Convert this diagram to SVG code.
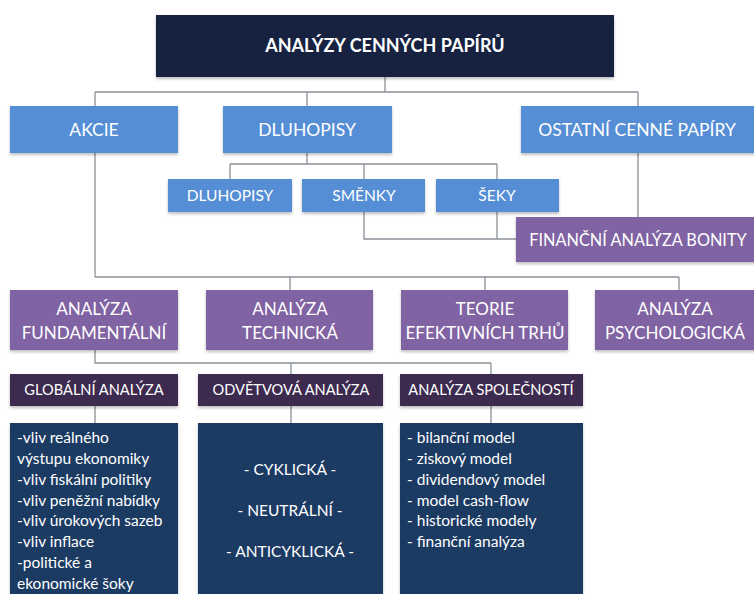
<svg xmlns="http://www.w3.org/2000/svg" width="754" height="594" viewBox="0 0 754 594">
<defs>
<filter id="sh" x="-5%" y="-5%" width="110%" height="130%">
<feDropShadow dx="0" dy="2" stdDeviation="1.5" flood-color="#000" flood-opacity="0.25"/>
</filter>
</defs>
<style>
text{font-family:Lato,"Open Sans","Liberation Sans",sans-serif;fill:#fff;}
.c{text-anchor:middle;}
.title{font-size:18px;font-weight:bold;}
.l1{font-size:17.5px;}
.l2{font-size:15.5px;}
.l4{font-size:17px;}
.l5{font-size:16.3px;}
.l3{font-size:14.6px;}
.lst{font-size:15.5px;}
.navy{fill:#13233f;}
.blue{fill:#558ed5;}
.purple{fill:#8064a2;}
.dpurple{fill:#3d2b50;}
.dnavy{fill:#1c3a64;}
rect{filter:url(#sh);}
.con{fill:none;stroke:#8a9199;stroke-width:1.3;}
</style>
<g id="connectors">
<path class="con" d="M385 77V92M95 92H638M95 92V106M307 92V106M638 92V106"/>
<path class="con" d="M307 153V164M230 164H497M230 164V179M364 164V179M497 164V179"/>
<path class="con" d="M364 212V239H516M497 212V239M638 153V217"/>
<path class="con" d="M95 153V277M95 277H679M290 277V290M485 277V290M679 277V290"/>
<path class="con" d="M95 350V363H491M291 363V374M491 363V374"/>
<path class="con" d="M95 406V423M291 406V423M491 406V423"/>
</g>
<g id="n-root"><rect class="navy" x="156" y="15" width="458" height="62"/><text class="c title" x="385" y="52">ANALÝZY CENNÝCH PAPÍRŮ</text></g>
<g id="n-akcie"><rect class="blue" x="10" y="106" width="168" height="47"/><text class="c l1" x="94" y="136">AKCIE</text></g>
<g id="n-dluhopisy"><rect class="blue" x="223" y="106" width="169" height="47"/><text class="c l1" x="307" y="136">DLUHOPISY</text></g>
<g id="n-ostatni"><rect class="blue" x="521" y="106" width="240" height="47"/><text class="c l1" x="637" y="136">OSTATNÍ CENNÉ PAPÍRY</text></g>
<g id="n-dluhopisy2"><rect class="blue" x="168" y="179" width="124" height="33"/><text class="c l2" x="230" y="201">DLUHOPISY</text></g>
<g id="n-smenky"><rect class="blue" x="302" y="179" width="123" height="33"/><text class="c l2" x="364" y="201">SMĚNKY</text></g>
<g id="n-seky"><rect class="blue" x="436" y="179" width="123" height="33"/><text class="c l2" x="497" y="201">ŠEKY</text></g>
<g id="n-financni"><rect class="purple" x="516" y="217" width="245" height="45"/><text class="c l5" x="638" y="246">FINANČNÍ ANALÝZA BONITY</text></g>
<g id="n-fund"><rect class="purple" x="10" y="290" width="168" height="60"/><text class="c l4" x="94" y="315">ANALÝZA</text><text class="c l4" x="94" y="339">FUNDAMENTÁLNÍ</text></g>
<g id="n-tech"><rect class="purple" x="206" y="290" width="167" height="60"/><text class="c l4" x="290" y="315">ANALÝZA</text><text class="c l4" x="290" y="339">TECHNICKÁ</text></g>
<g id="n-teorie"><rect class="purple" x="401" y="290" width="167" height="60"/><text class="c l4" x="485" y="315">TEORIE</text><text class="c l4" x="485" y="339">EFEKTIVNÍCH TRHŮ</text></g>
<g id="n-psych"><rect class="purple" x="595" y="290" width="168" height="60"/><text class="c l4" x="675" y="315">ANALÝZA</text><text class="c l4" x="675" y="339">PSYCHOLOGICKÁ</text></g>
<g id="n-global"><rect class="dpurple" x="10" y="374" width="168" height="32"/><text class="c l3" x="94" y="395">GLOBÁLNÍ ANALÝZA</text></g>
<g id="n-odvetvova"><rect class="dpurple" x="198" y="374" width="185" height="32"/><text class="c l3" x="291" y="395">ODVĚTVOVÁ ANALÝZA</text></g>
<g id="n-spolecnosti"><rect class="dpurple" x="400" y="374" width="183" height="32"/><text class="c l3" x="491" y="395">ANALÝZA SPOLEČNOSTÍ</text></g>
<g id="n-list1"><rect class="dnavy" x="10" y="423" width="168" height="175"/>
<text class="lst" x="17"><tspan x="17" y="443">-vliv reálného</tspan><tspan x="17" y="464">výstupu ekonomiky</tspan><tspan x="17" y="485">-vliv fiskální politiky</tspan><tspan x="17" y="506">-vliv peněžní nabídky</tspan><tspan x="17" y="526">-vliv úrokových sazeb</tspan><tspan x="17" y="547">-vliv inflace</tspan><tspan x="17" y="568">-politické a</tspan><tspan x="17" y="589">ekonomické šoky</tspan></text></g>
<g id="n-list2"><rect class="dnavy" x="198" y="423" width="185" height="175"/>
<text class="c lst" x="290" y="475">- CYKLICKÁ -</text><text class="c lst" x="290" y="516">- NEUTRÁLNÍ -</text><text class="c lst" x="290" y="557">- ANTICYKLICKÁ -</text></g>
<g id="n-list3"><rect class="dnavy" x="400" y="423" width="183" height="175"/>
<text class="lst" x="407"><tspan x="407" y="443">- bilanční model</tspan><tspan x="407" y="464">- ziskový model</tspan><tspan x="407" y="485">- dividendový model</tspan><tspan x="407" y="506">- model cash-flow</tspan><tspan x="407" y="526">- historické modely</tspan><tspan x="407" y="547">- finanční analýza</tspan></text></g>
</svg>
